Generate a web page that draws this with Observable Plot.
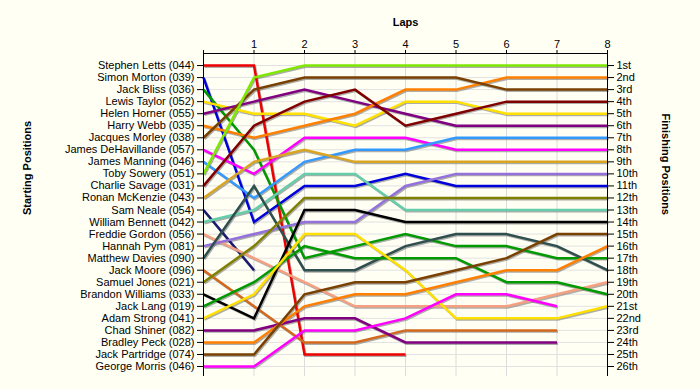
<!DOCTYPE html>
<html><head><meta charset="utf-8">
<script src="https://cdn.jsdelivr.net/npm/d3@7"></script>
<script src="https://cdn.jsdelivr.net/npm/@observablehq/plot@0.6"></script>
<style>
html,body{margin:0;padding:0;background:#fffff4;}
</style></head><body><div id="chart"></div>
<script>
const drivers = [
  "Stephen Letts (044)","Simon Morton (039)","Jack Bliss (036)","Lewis Taylor (052)",
  "Helen Horner (055)","Harry Webb (035)","Jacques Morley (038)","James DeHavillande (057)",
  "James Manning (046)","Toby Sowery (051)","Charlie Savage (031)","Ronan McKenzie (043)",
  "Sam Neale (054)","William Bennett (042)","Freddie Gordon (056)","Hannah Pym (081)",
  "Matthew Davies (090)","Jack Moore (096)","Samuel Jones (021)","Brandon Williams (033)",
  "Jack Lang (019)","Adam Strong (041)","Chad Shiner (082)","Bradley Peck (028)",
  "Jack Partridge (074)","George Morris (046)"
];
const colors = [
  "#ee0000","#0000dd","#009a00","#ffe000","#800080","#ff8000","#7a4000","#ff00ff",
  "#3399ff","#80e800","#800000","#daa520","#1a1a70","#66cdaa","#f5a080","#9370db",
  "#2f4f4f","#d2691e","#808000","#000000","#009a00","#ffe000","#800080","#ff8000",
  "#7a4000","#ff00ff"
];
const finishLabels = [
  "1st","2nd","3rd","4th","5th","6th","7th","8th","9th","10th","11th","12th","13th",
  "14th","15th","16th","17th","18th","19th","20th","21st","22nd","23rd","24th","25th","26th"
];
const lapTicks = [0,1,2,3,4,5,6,7,8];

// position of each driver (in starting order) after each lap; null = retired
const lap0 = [1,2,3,4,5,6,7,8,9,10,11,12,13,14,15,16,17,18,19,20,21,22,23,24,25,26];
const lap1 = [1,14,8,5,4,7,3,10,12,2,6,9,18,13,17,15,11,21,16,22,19,20,23,24,25,26];
const lap2 = [25,11,17,5,3,6,2,7,9,1,4,8,null,10,19,14,18,24,12,13,16,15,22,21,20,23];
const lap3 = [25,11,16,6,4,5,2,7,8,1,3,9,null,10,21,14,18,24,12,13,17,15,22,20,19,23];
const lap4 = [25,10,15,4,5,3,2,7,8,1,6,9,null,13,21,11,16,23,12,14,17,18,24,20,19,22];
const lap5 = [null,11,16,4,6,3,2,8,7,1,5,9,null,13,21,10,15,23,12,14,17,22,24,19,18,20];
const lap6 = [null,11,16,5,6,2,3,8,7,1,4,9,null,13,21,10,15,23,12,14,19,22,24,18,17,20];
const lap7 = [null,11,17,5,6,2,3,8,7,1,4,9,null,13,20,10,16,23,12,14,19,22,24,18,15,21];
const lap8 = [null,11,17,5,6,2,3,8,7,1,4,9,null,13,19,10,18,null,12,14,20,21,null,16,15,null];

const laps = [lap0,lap1,lap2,lap3,lap4,lap5,lap6,lap7,lap8];
const data = [];
drivers.forEach((d, i) => laps.forEach((lp, l) => {
  if (lp[i] != null) data.push({driver: d, lap: lapTicks[l], pos: lp[i]});
}));
const positions = d3.range(1, drivers.length + 1);

const chart = Plot.plot({
  width: 700, height: 390,
  marginLeft: 203, marginRight: 93, marginTop: 53, marginBottom: 14,
  style: {background: "#fffff4", fontFamily: "'Liberation Sans', Arial, sans-serif", fontSize: "11px", color: "#000"},
  x: {domain: [0, 8], axis: null},
  y: {domain: [0, 26.83], reverse: true, axis: null},
  color: {domain: drivers, range: colors},
  marks: [
    Plot.gridX(lapTicks, {stroke: "#dcdcdc", strokeOpacity: 1}),
    Plot.gridY(positions, {stroke: "#e2e2e2", strokeOpacity: 1}),
    Plot.line(data, {x: "lap", y: "pos", z: "driver", stroke: "#777", strokeOpacity: 0.6, strokeWidth: 2.5, dx: 1, dy: 1.2,
      strokeLinecap: "butt", strokeLinejoin: "miter", strokeMiterlimit: 4}),
    Plot.line(data, {x: "lap", y: "pos", z: "driver", stroke: "driver", strokeWidth: 2.5,
      strokeLinecap: "butt", strokeLinejoin: "miter", strokeMiterlimit: 4}),
    Plot.ruleY([0], {stroke: "#000"}),
    Plot.ruleX([0, 8], {stroke: "#000"}),
    Plot.axisX(lapTicks, {anchor: "top", tickSize: 4, tickPadding: 2, tickFormat: d => d === 0 ? "" : String(d), label: null}),
    Plot.axisY(positions, {anchor: "left", tickSize: 6, tickPadding: 3, tickFormat: d => drivers[d - 1], label: null}),
    Plot.axisY(positions, {anchor: "right", tickSize: 6, tickPadding: 3, tickFormat: d => finishLabels[d - 1], label: null}),
    Plot.text(["Laps"], {text: d => d, frameAnchor: "top", dy: -35, fontWeight: "bold"}),
    Plot.text(["Starting Positions"], {text: d => d, frameAnchor: "left", rotate: -90, dx: -176, fontWeight: "bold"}),
    Plot.text(["Finishing Positions"], {text: d => d, frameAnchor: "right", rotate: 90, dx: 58, fontWeight: "bold"})
  ]
});
document.getElementById("chart").appendChild(chart);
</script></body></html>
